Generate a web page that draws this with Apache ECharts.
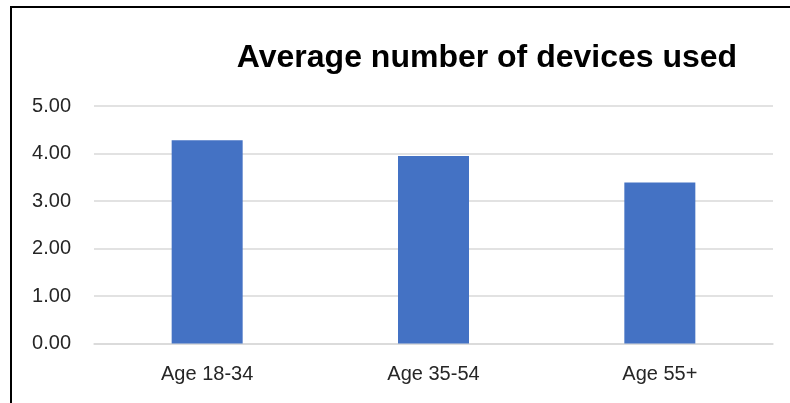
<!DOCTYPE html>
<html>
<head>
<meta charset="utf-8">
<script src="https://cdn.jsdelivr.net/npm/echarts@6/dist/echarts.min.js"></script>
<style>
  html, body { margin: 0; padding: 0; background: #fff; }
  #main { width: 790px; height: 403px; }
</style>
</head>
<body>
<div id="main"></div>
<script>
// data
var categories = ["Age 18-34", "Age 35-54", "Age 55+"];
var avgDevices = [4.28, 3.95, 3.39];
var yTicks = [0, 1, 2, 3, 4, 5];

var chart = echarts.init(document.getElementById("main"));

var option = {
  backgroundColor: "#fff",
  animation: false,
  title: {
    text: "Average number of devices used",
    left: 482,
    textAlign: "center",
    top: 37,
    textStyle: {
      fontFamily: "Liberation Sans",
      fontWeight: "bold",
      fontSize: 32,
      color: "#000"
    }
  },
  grid: {
    left: 94,
    right: 17,
    top: 106,
    bottom: 59.5
  },
  xAxis: {
    type: "category",
    data: categories,
    axisLine: { lineStyle: { color: "#d9d9d9", width: 1.5 } },
    axisTick: { show: false },
    axisLabel: {
      margin: 21,
      fontFamily: "Liberation Sans",
      fontSize: 20,
      color: "#262626"
    }
  },
  yAxis: {
    type: "value",
    min: yTicks[0],
    max: yTicks[yTicks.length - 1],
    interval: 1,
    axisLine: { show: false },
    axisTick: { show: false },
    splitLine: { lineStyle: { color: "#d9d9d9", width: 1.5 } },
    axisLabel: {
      margin: 23,
      fontFamily: "Liberation Sans",
      fontSize: 20,
      color: "#262626",
      formatter: function (v) { return v.toFixed(2); }
    }
  },
  series: [{
    name: "Average number of devices used",
    type: "bar",
    data: avgDevices,
    barWidth: 71,
    itemStyle: { color: "#4472C4" }
  }],
  graphic: [
    { type: "line", shape: { x1: 10, y1: 7, x2: 790, y2: 7 }, style: { stroke: "#000", lineWidth: 2 } },
    { type: "line", shape: { x1: 11, y1: 6, x2: 11, y2: 403 }, style: { stroke: "#000", lineWidth: 2 } }
  ]
};

chart.setOption(option);
</script>
</body>
</html>
